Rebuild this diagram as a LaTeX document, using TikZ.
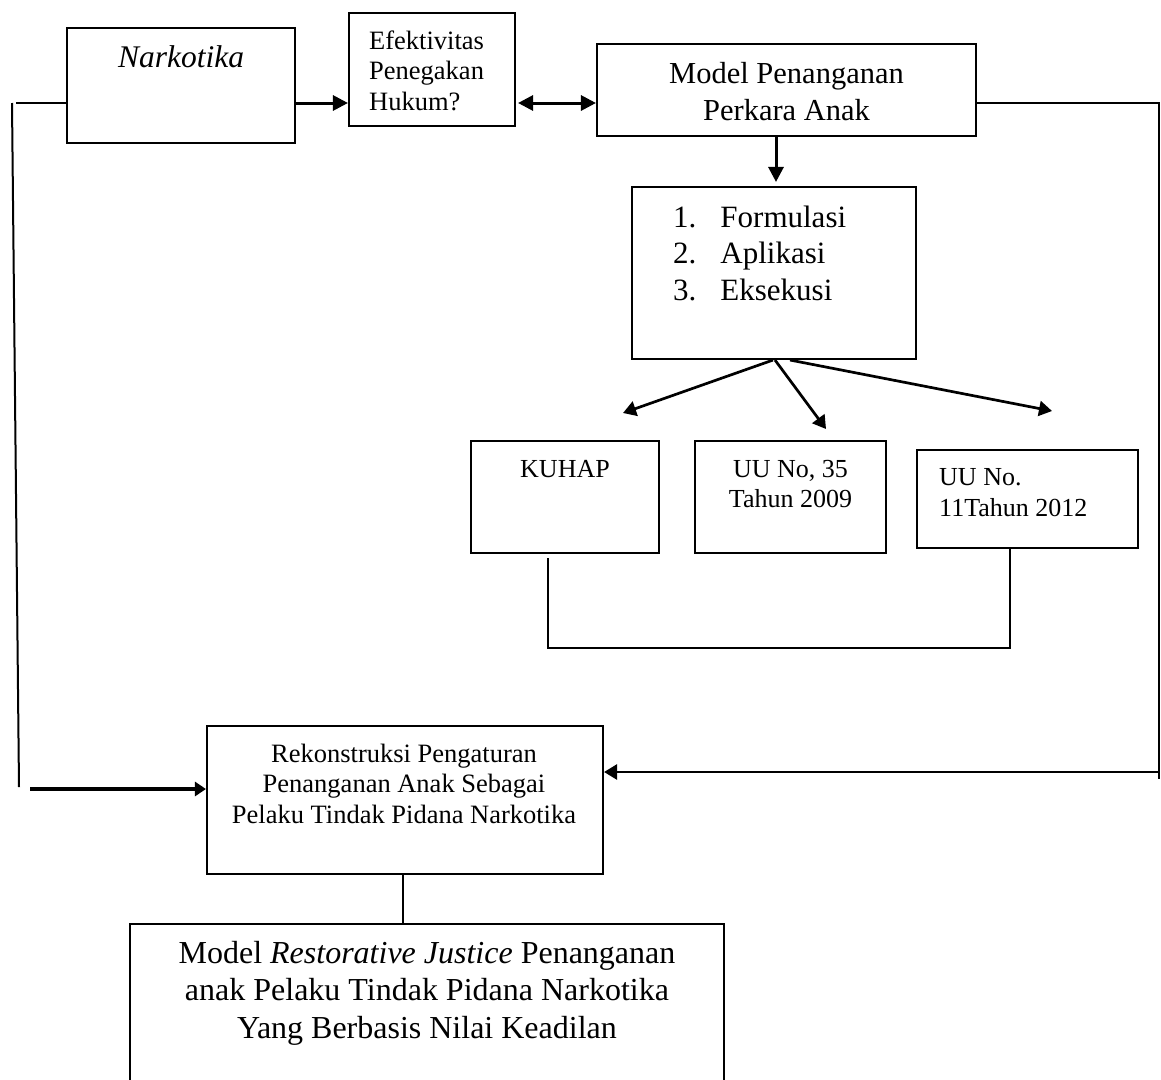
\documentclass[tikz,border=0pt]{standalone}
\usepackage{fontspec}
\setmainfont{Liberation Serif}
\usetikzlibrary{arrows.meta}
\newcommand\tblock[4]{{\fontsize{#2}{#3}\selectfont\begin{tabular}[t]{@{}#1@{}}#4\end{tabular}}}
\tikzset{
  box/.style={draw, line width=2.1pt, inner sep=0pt, rectangle},
  txt/.style={inner sep=0pt},
  ln/.style={line width=2pt},
  arr/.style={line width=3pt, -{Triangle[length=15pt,width=15pt]}},
  darr/.style={line width=3pt, {Triangle[length=15pt,width=15pt]}-{Triangle[length=15pt,width=15pt]}},
  arrs/.style={line width=2.7pt, -{Triangle[length=13pt,width=15pt]}},
  arrl/.style={line width=3.2pt, -{Triangle[length=11pt,width=14pt]}},
}
\begin{document}
\begin{tikzpicture}[x=1pt,y=-1pt]
\useasboundingbox (0,0) rectangle (1161,1079);
\fill[white] (0,0) rectangle (1161,1079);

% boxes
\node[box, minimum width=228pt, minimum height=115pt] (nark) at (181,85.5) {};
\node[box, minimum width=166pt, minimum height=113pt] (efek) at (432,69.5) {};
\node[box, minimum width=379pt, minimum height=92pt] (model) at (786.5,90) {};
\node[box, minimum width=284pt, minimum height=172pt] (form) at (774,273) {};
\node[box, minimum width=188pt, minimum height=112pt] (kuhap) at (565,497) {};
\node[box, minimum width=191pt, minimum height=112pt] (uu35) at (790.5,497) {};
\node[box, minimum width=221pt, minimum height=98pt] (uu11) at (1027.5,499) {};
\node[box, minimum width=396pt, minimum height=148pt] (rek) at (405,800) {};
\node[box, minimum width=594pt, minimum height=171pt] (rj) at (427,1009.5) {};

% texts
\node[txt, anchor=base] (tnark) at (181,67) {\fontsize{31.5}{36}\selectfont\itshape Narkotika};
\node[txt, anchor=base west] (tefek) at (369,49) {\tblock{l}{26.5}{30.5}{Efektivitas\\Penegakan\\Hukum?}};
\node[txt, anchor=base] (tmodel) at (786.5,83) {\tblock{c}{30.5}{37}{Model Penanganan\\Perkara Anak}};
\node[txt, anchor=base west] (tform) at (673,227) {\fontsize{31}{36.5}\selectfont\begin{tabular}[t]{@{}l@{\hspace{24pt}}l@{}}1.&Formulasi\\2.&Aplikasi\\3.&Eksekusi\end{tabular}};
\node[txt, anchor=base] (tkuhap) at (565,477) {\fontsize{26}{30}\selectfont KUHAP};
\node[txt, anchor=base] (tuu35) at (790.5,477) {\tblock{c}{26}{30}{UU No, 35\\Tahun 2009}};
\node[txt, anchor=base west] (tuu11) at (939,485) {\tblock{l}{26}{31.5}{UU No.\\11Tahun 2012}};
\node[txt, anchor=base] (trek) at (404,762) {\tblock{c}{26.5}{30.5}{Rekonstruksi Pengaturan\\Penanganan Anak Sebagai\\Pelaku Tindak Pidana Narkotika}};
\node[txt, anchor=base] (trj) at (427,963) {\tblock{c}{32}{37.5}{Model \textit{Restorative Justice} Penanganan\\anak Pelaku Tindak Pidana Narkotika\\Yang Berbasis Nilai Keadilan}};

% free-end coordinates
\coordinate (ll1) at (16,103);
\coordinate (lv1) at (12,103);
\coordinate (lv2) at (19,787);
\coordinate (la) at (30,789);
\coordinate (rt) at (1159,103);
\coordinate (rb) at (1159,779);
\coordinate (ra) at (1159,772);
\coordinate (tk) at (623,413);
\coordinate (tm) at (826,429);
\coordinate (tu) at (1052,411);
\coordinate (bl) at (548,648);
\coordinate (br) at (1010,648);

% connectors
\draw[arr] ([yshift=-17.5pt]nark.east) -- ([yshift=-17.5pt]nark.east -| efek.west);
\draw[darr] ([yshift=-33.5pt,xshift=2pt]efek.east) -- ([yshift=-33.5pt]efek.east -| model.west);
\draw[arr, shorten >=4pt] ([xshift=-10.5pt]model.south) -- ([xshift=-10.5pt]model.south |- form.north);
\draw[arrs] ([xshift=-1pt]form.south) -- (tk);
\draw[arrs] ([xshift=1pt]form.south) -- (tm);
\draw[arrs] ([xshift=16pt]form.south) -- (tu);
\draw[ln] ([xshift=-17pt,yshift=-4pt]kuhap.south) -- (bl) -- (br) -- (br |- uu11.south);
\draw[ln] ([yshift=-17.5pt]nark.west) -- (ll1);
\draw[ln] (lv1) -- (lv2);
\draw[arrl] (la) -- (la -| rek.west);
\draw[ln] ([yshift=-13pt]model.east) -- (rt) -- (rb);
\draw[arrs] (ra) -- (ra -| rek.east);
\draw[ln] ([xshift=-2pt]rek.south) -- ([xshift=-2pt]rek.south |- rj.north);
\end{tikzpicture}
\end{document}
